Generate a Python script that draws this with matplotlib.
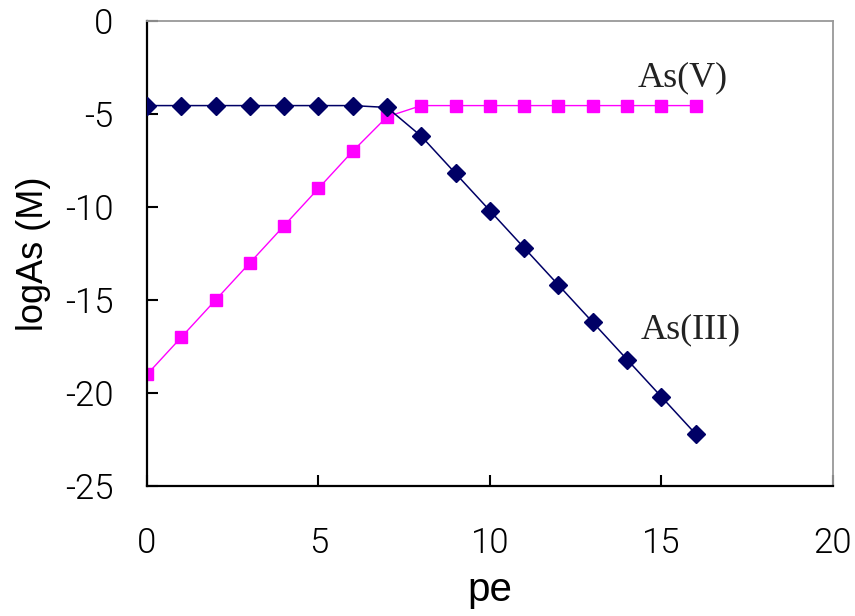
import matplotlib
matplotlib.use("Agg")
import matplotlib.pyplot as plt

pe = list(range(0, 17))
as_iii = [-4.55, -4.55, -4.55, -4.55, -4.55, -4.55, -4.55, -4.65,
          -6.2, -8.2, -10.2, -12.2, -14.2, -16.2, -18.2, -20.2, -22.2]
as_v = [-19.0, -17.0, -15.0, -13.0, -11.0, -9.0, -7.0, -5.15,
        -4.55, -4.55, -4.55, -4.55, -4.55, -4.55, -4.55, -4.55, -4.55]
xticks = [0, 5, 10, 15, 20]
yticks = [0, -5, -10, -15, -20, -25]

fig = plt.figure(figsize=(8.55, 6.16), dpi=100)
ax = fig.add_axes([0.172, 0.211, 0.802, 0.755])

ax.plot(pe, as_iii, color="#000066", lw=1.1, marker="D", ms=9,
        mfc="#000066", mec="#000066", zorder=3)
ax.plot(pe, as_v, color="#FF00FF", lw=1.0, marker="s", ms=9,
        mfc="#FF00FF", mec="#FF00FF", zorder=2)

ax.set_xlim(0, 20)
ax.set_ylim(-25, 0)
ax.set_xticks(xticks)
ax.set_yticks(yticks)
ax.set_xticklabels([str(t) for t in xticks])
ax.set_yticklabels([str(t) for t in yticks])
ax.tick_params(direction="in", length=8, width=1.5, labelsize=25, color="black")
ax.tick_params(axis="x", pad=29)
ax.tick_params(axis="y", pad=24)
for lab in ax.get_xticklabels() + ax.get_yticklabels():
    lab.set_fontfamily("Roboto")
    lab.set_fontweight(300)

ax.spines["left"].set_color("black")
ax.spines["bottom"].set_color("black")
ax.spines["left"].set_linewidth(1.6)
ax.spines["bottom"].set_linewidth(1.6)
ax.spines["top"].set_color("#999999")
ax.spines["right"].set_color("#999999")
ax.spines["top"].set_linewidth(1.3)
ax.spines["right"].set_linewidth(1.3)

ax.set_xlabel("pe", fontsize=29, family="Liberation Sans", labelpad=8)
ax.set_ylabel("logAs (M)", fontsize=26, family="Liberation Sans", labelpad=10)

ax.text(15.63, -3.05, "As(V)", fontsize=26, family="Liberation Serif",
        ha="center", va="center", color="#222222")
ax.text(15.85, -16.6, "As(III)", fontsize=26, family="Liberation Serif",
        ha="center", va="center", color="#222222")

fig.savefig("out.png", dpi=100)
